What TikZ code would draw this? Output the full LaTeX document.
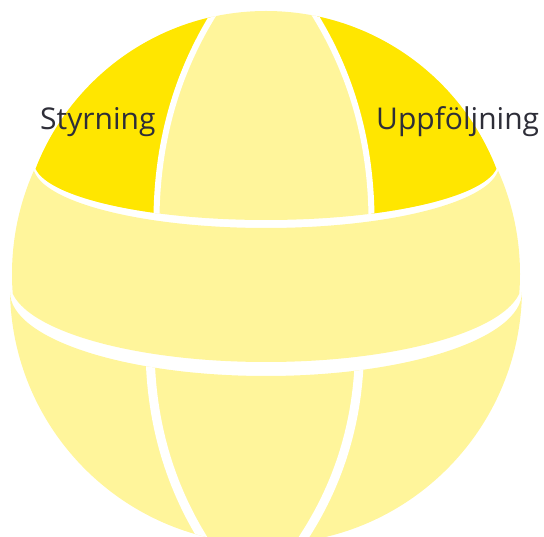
\documentclass[tikz,border=0pt]{standalone}
\usepackage{fontspec}
\setmainfont{Open Sans}
\definecolor{gold}{RGB}{255,230,0}
\definecolor{pale}{RGB}{255,245,155}
\definecolor{ink}{RGB}{46,46,56}
\tikzset{
  topregion/.style={insert path={(34,162) arc[start angle=180,end angle=0,x radius=232,y radius=58] -- (498,0) -- (34,0) -- cycle}},
  bandregion/.style={insert path={(33,165) arc[start angle=180,end angle=0,x radius=233,y radius=63] -- (544,165) -- (544,282) -- (522,282) arc[start angle=0,end angle=180,x radius=256,y radius=80] -- (0,282) -- (0,165) -- cycle}},
  bottomregion/.style={insert path={(10,292) arc[start angle=180,end angle=0,x radius=256,y radius=84] -- (544,292) -- (544,560) -- (0,560) -- (0,292) -- cycle}},
  gap/.style={draw=white},
  lbl/.style={text=ink, font=\fontsize{30}{35}\selectfont, inner sep=0pt}
}
\begin{document}
\begin{tikzpicture}[x=1pt,y=1pt,yscale=-1]
\useasboundingbox (0,0) rectangle (544,537);
% bottom cap
\begin{scope}
  \clip (266,288) circle[radius=256];
  \clip[bottomregion];
  \fill[pale] (0,280) rectangle (544,560);
  \draw[gap, line width=9] (150,350) -- (150.5,366) .. controls (153.5,428.7) and (170.7,485.7) .. (202,537) -- (214,557);
  \draw[gap, line width=9] (359.5,350) -- (359,366) .. controls (355.7,428.7) and (337.3,485.7) .. (304,537) -- (292,557);
\end{scope}
% middle band
\begin{scope}
  \clip (266,274) circle[radius=254];
  \clip[bandregion];
  \fill[pale] (0,150) rectangle (544,380);
\end{scope}
% top cap
\begin{scope}
  \clip (266,258) circle[radius=247];
  \clip[topregion];
  \fill[pale] (0,0) rectangle (544,240);
  \fill[gold] (0,0) -- (219.8,4) -- (212.5,16) .. controls (176.2,75.3) and (157.5,142) .. (156.5,216) -- (156.5,260) -- (0,260) -- cycle;
  \fill[gold] (544,0) -- (308.2,4) -- (315.5,16) .. controls (351.8,75.3) and (370.5,142) .. (371.5,216) -- (371.5,260) -- (544,260) -- cycle;
  \draw[gap, line width=6] (219.8,4) -- (212.5,16) .. controls (176.2,75.3) and (157.5,142) .. (156.5,216) -- (156.5,240);
  \draw[gap, line width=6] (308.2,4) -- (315.5,16) .. controls (351.8,75.3) and (370.5,142) .. (371.5,216) -- (371.5,240);
\end{scope}
\node[lbl, anchor=base west] (styrning) at (40,130) {Styrning};
\node[lbl, anchor=base west] (uppfoljning) at (376,130) {Uppföljning};
\end{tikzpicture}
\end{document}
